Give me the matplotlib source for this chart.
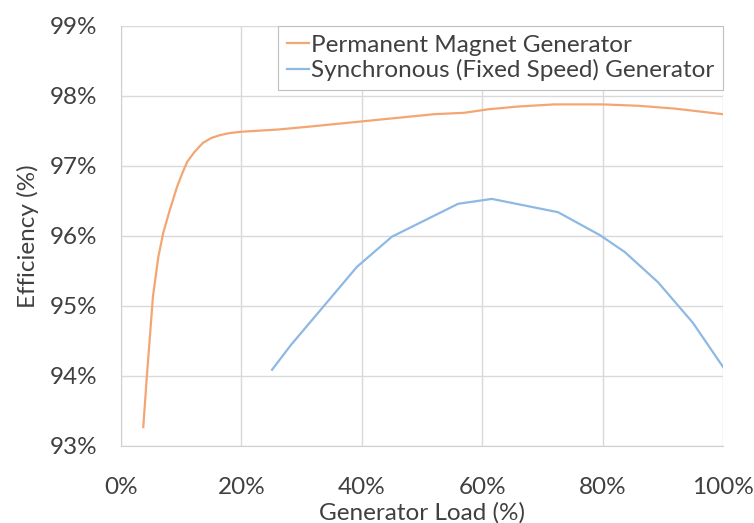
import numpy as np
import matplotlib.pyplot as plt
from matplotlib.ticker import FuncFormatter

plt.rcParams['font.family'] = ['Lato', 'DejaVu Sans']

# ── Data ──────────────────────────────────────────────────────────────────────
pm_load = [3.7, 4.3, 4.8, 5.3, 6.2, 7.0, 8.1, 9.3, 10.2, 11.0, 12.2, 13.6, 15.0, 16.4, 18.0, 20.1,
           25.9, 31, 38, 45, 52, 57, 61, 66, 72, 80, 86, 92, 100]
pm_eff = [93.27, 94.00, 94.56, 95.13, 95.70, 96.04, 96.37, 96.70, 96.90, 97.06, 97.20, 97.33, 97.40,
          97.44, 97.47, 97.49, 97.52, 97.56, 97.62, 97.68, 97.74, 97.76, 97.81, 97.85, 97.88, 97.88,
          97.86, 97.82, 97.74]

sync_load = [25.1, 28.2, 39.2, 45.0, 56.0, 61.6, 72.6, 79.6, 83.7, 89.2, 95.0, 100]
sync_eff = [94.09, 94.44, 95.56, 95.99, 96.46, 96.53, 96.34, 96.01, 95.77, 95.34, 94.76, 94.13]

x_ticks = [0, 20, 40, 60, 80, 100]
y_ticks = [93, 94, 95, 96, 97, 98, 99]

# ── Plot ──────────────────────────────────────────────────────────────────────
fig = plt.figure(figsize=(7.54, 5.23), dpi=100)
ax = fig.add_axes([121 / 754, 1 - 446 / 523, (723 - 121) / 754, (446 - 26) / 523])

ax.plot(pm_load, pm_eff, color="#F4A672", linewidth=1.6, solid_joinstyle="round",
        label="Permanent Magnet Generator")
ax.plot(sync_load, sync_eff, color="#8DB9E3", linewidth=1.6, solid_joinstyle="round",
        label="Synchronous (Fixed Speed) Generator")

ax.set_xlim(0, 100)
ax.set_ylim(93, 99)
ax.set_xticks(x_ticks)
ax.set_yticks(y_ticks)
ax.xaxis.set_major_formatter(FuncFormatter(lambda v, p: f"{v:.0f}%"))
ax.yaxis.set_major_formatter(FuncFormatter(lambda v, p: f"{v:.0f}%"))
ax.grid(True, color="#D9D9D9", linewidth=1.0)
ax.set_axisbelow(True)
ax.tick_params(length=0, labelsize=17.5, colors="#404040")
ax.tick_params(axis="y", pad=17)
ax.tick_params(axis="x", pad=22)
for s in ["top", "right"]:
    ax.spines[s].set_visible(False)
for s in ["left", "bottom"]:
    ax.spines[s].set_color("#D0D0D0")

ax.set_xlabel("Generator Load (%)", fontsize=17.5, color="#404040", labelpad=3)
ax.set_ylabel("Efficiency (%)", fontsize=17.5, color="#404040", labelpad=8)

leg = ax.legend(loc="upper right", bbox_to_anchor=(1.0, 1.0), fontsize=17.5, fancybox=False,
                handlelength=0.9, handletextpad=0.1, borderaxespad=0.0, labelspacing=0.15,
                borderpad=0.35, framealpha=1)
leg.get_frame().set_edgecolor("#BFBFBF")
leg.get_frame().set_linewidth(0.8)
for t in leg.get_texts():
    t.set_color("#404040")

plt.savefig("out.png", dpi=100)
